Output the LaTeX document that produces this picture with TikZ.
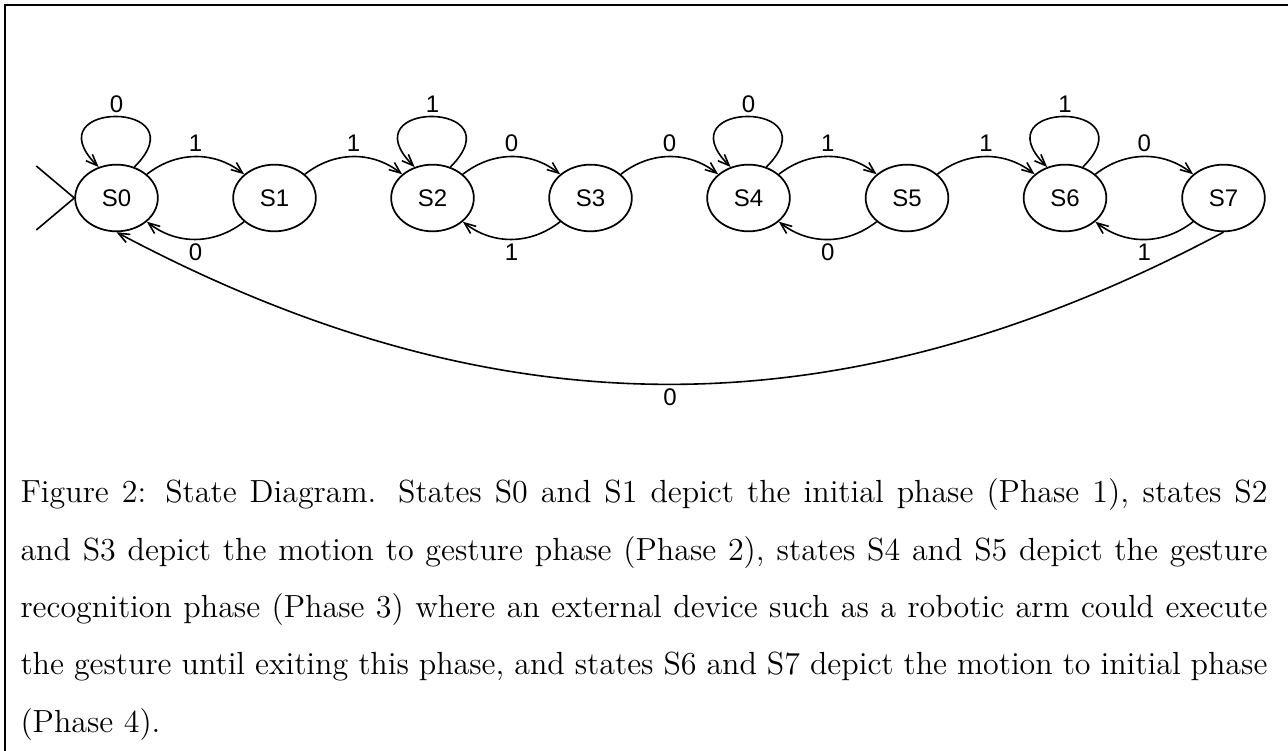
\documentclass[tikz,border=0pt]{standalone}
\usepackage{fontspec}
\newfontfamily\statefont{Liberation Sans}
\usetikzlibrary{shapes.geometric,arrows.meta}
\tikzset{
  statenode/.style={ellipse,draw,line width=0.65pt,minimum width=31pt,minimum height=25pt,
    inner sep=0pt,font=\statefont\fontsize{9}{10}\selectfont},
  trans/.style={line width=0.6pt,-{Straight Barb[length=4.2pt,width=3.4pt]}},
  lbl/.style={font=\statefont\fontsize{9}{10}\selectfont,inner sep=1.5pt},
}
\begin{document}
\begin{tikzpicture}[x=0.375pt,y=0.375pt]
    \useasboundingbox (0,0) rectangle (1288,-751);
    % frame
    \draw[line width=0.9pt] (5,-751) -- (5,-5) -- (1288,-5);
    % states
    \foreach \i/\x in {0/116.5,1/274.5,2/432.5,3/590.5,4/748.5,5/907,6/1065,7/1223.5}
    \node[statenode] (S\i) at (\x,-198) {S\i};
    % start marker
    \coordinate (in1) at ([shift={(-38,32)}]S0.west);
    \coordinate (in2) at ([shift={(-38,-32)}]S0.west);
    \draw[line width=0.6pt] (in1) -- (S0.west) -- (in2);
    % transitions above
    \foreach \a/\b/\t in {0/1/1, 1/2/1, 2/3/0, 3/4/0, 4/5/1, 5/6/1, 6/7/0}
    \draw[trans] (S\a) to[bend left=38] node[lbl,above] {\t} (S\b);
    % transitions below
    \foreach \a/\b/\t in {1/0/0, 3/2/1, 5/4/0, 7/6/1}
    \draw[trans] (S\a) to[bend left=38] node[lbl,below] {\t} (S\b);
    % self loops
    \foreach \a/\t in {0/0, 2/1, 4/0, 6/1}
    \draw[trans] (S\a.60) to[out=45,in=135,looseness=6.8] node[lbl,above,inner sep=1.2pt] {\t} (S\a.120);
    % back to start
    \draw[trans] (S7.south) to[out=-152,in=-28,looseness=1] node[lbl,below] {0} (S0.south);
    % caption
    \node[anchor=base west,text width=467.6pt,align=justify,inner sep=0pt,
      font=\fontsize{12}{21.5}\selectfont] (caption) at (20,-503)
    {Figure 2: State Diagram. States S0 and S1 depict the initial phase (Phase 1), states S2\linebreak
     and S3 depict the motion to gesture phase (Phase 2), states S4 and S5 depict the gesture\linebreak
     recognition phase (Phase 3) where an external device such as a robotic arm could execute\linebreak
     the gesture until exiting this phase, and states S6 and S7 depict the motion to initial phase\linebreak
     (Phase 4).};
\end{tikzpicture}
\end{document}
